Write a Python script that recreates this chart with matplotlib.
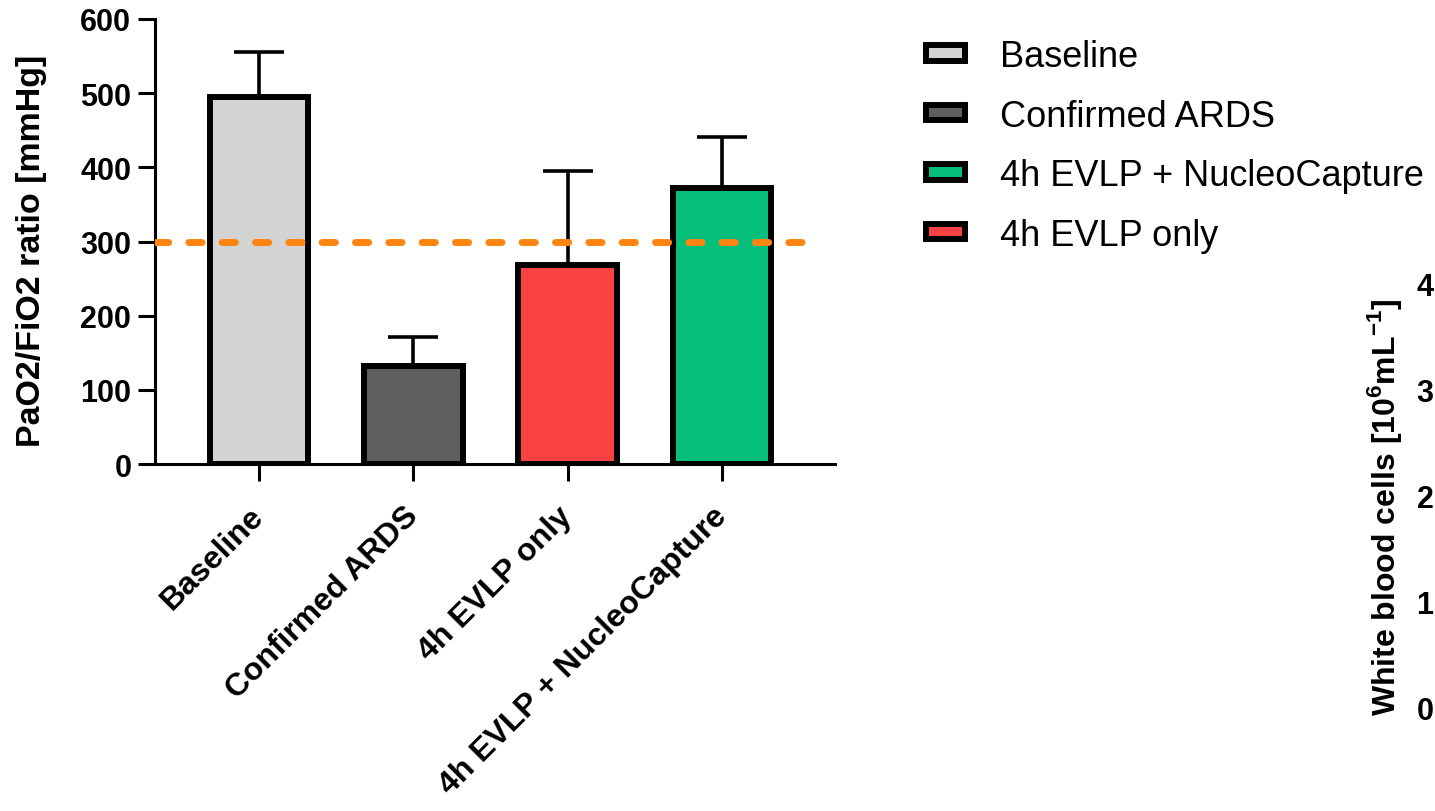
import numpy as np
import matplotlib.pyplot as plt
from matplotlib.patches import Patch

plt.rcParams['font.family'] = ['Liberation Sans', 'DejaVu Sans']
plt.rcParams['mathtext.fontset'] = 'custom'
plt.rcParams['mathtext.rm'] = 'Liberation Sans'
plt.rcParams['mathtext.bf'] = 'Liberation Sans:bold'

# PaO2/FiO2 ratio per group (mean + upper SD)
groups = ['Baseline', 'Confirmed ARDS', '4h EVLP only', '4h EVLP + NucleoCapture']
means = [495, 132, 268, 372]
sds = [60, 39, 127, 69]
colors = ['#D3D3D3', '#5F5F5F', '#F94343', '#06BF7A']
ards_cutoff = 300

legend_order = ['Baseline', 'Confirmed ARDS', '4h EVLP + NucleoCapture', '4h EVLP only']

wbc_ticks = [0, 1, 2, 3, 4]

fig = plt.figure(figsize=(14.35, 8.12), dpi=100)
ax = fig.add_axes([0.108, 0.4273, 0.474, 0.5481])

x = np.arange(len(groups))
ax.bar(x, means, width=0.64, color=colors, edgecolor='black', linewidth=4.3, zorder=2)
ax.errorbar(x, means, yerr=[np.zeros(len(sds)), sds], fmt='none', ecolor='black',
            elinewidth=2.6, capsize=18, capthick=2.6, zorder=1)

x_left, x_right = -0.674, 3.733
ax.hlines(ards_cutoff, x_left, 3.54, colors='#FF8410', linestyles=(0, (1.9, 2.9)),
          linewidth=5, capstyle='round', zorder=3)

ax.set_xlim(x_left, x_right)
ax.set_ylim(0, 600)
ax.set_yticks(range(0, 601, 100))
ax.set_xticks(x)
ax.set_xticklabels(groups, rotation=45, ha='right', va='center', rotation_mode='anchor',
                   fontsize=23, fontweight='bold')
for lab in ax.get_yticklabels():
    lab.set_fontsize(22)
    lab.set_fontweight('bold')
ax.tick_params(axis='both', width=2.2, length=12, pad=5)
ax.tick_params(axis='x', pad=22)
ax.set_ylabel('PaO2/FiO2 ratio [mmHg]', fontsize=24.5, fontweight='bold', labelpad=24)
ax.yaxis.label.set_y(0.481)
for side in ['top', 'right']:
    ax.spines[side].set_visible(False)
for side in ['left', 'bottom']:
    ax.spines[side].set_linewidth(2.2)

handles = [Patch(facecolor=colors[groups.index(g)], edgecolor='black', linewidth=4.3)
           for g in legend_order]
fig.legend(handles, legend_order, loc='upper left', bbox_to_anchor=(0.633, 0.973),
           frameon=False, fontsize=26, handlelength=1.06, handleheight=0.27,
           handletextpad=0.98, labelspacing=0.68, borderpad=0)

# secondary panel axis peeking in at the right edge
ax2 = fig.add_axes([1.0, 1 - 708 / 812, 0.05, (708 - 285) / 812])
ax2.set_ylim(0, 4)
ax2.set_yticks(wbc_ticks)
ax2.set_xticks([])
for s in ax2.spines.values():
    s.set_visible(False)
ax2.patch.set_visible(False)
ax2.tick_params(axis='y', length=0, pad=1)
for lab in ax2.get_yticklabels():
    lab.set_fontsize(22)
    lab.set_fontweight('bold')
ax2.set_ylabel(r'White blood cells [10$^{\mathbf{6}}$mL$^{\mathbf{-1}}$]',
               fontsize=23, fontweight='bold', labelpad=9)
ax2.yaxis.label.set_y(0.475)

fig.savefig('out.png', dpi=100)
